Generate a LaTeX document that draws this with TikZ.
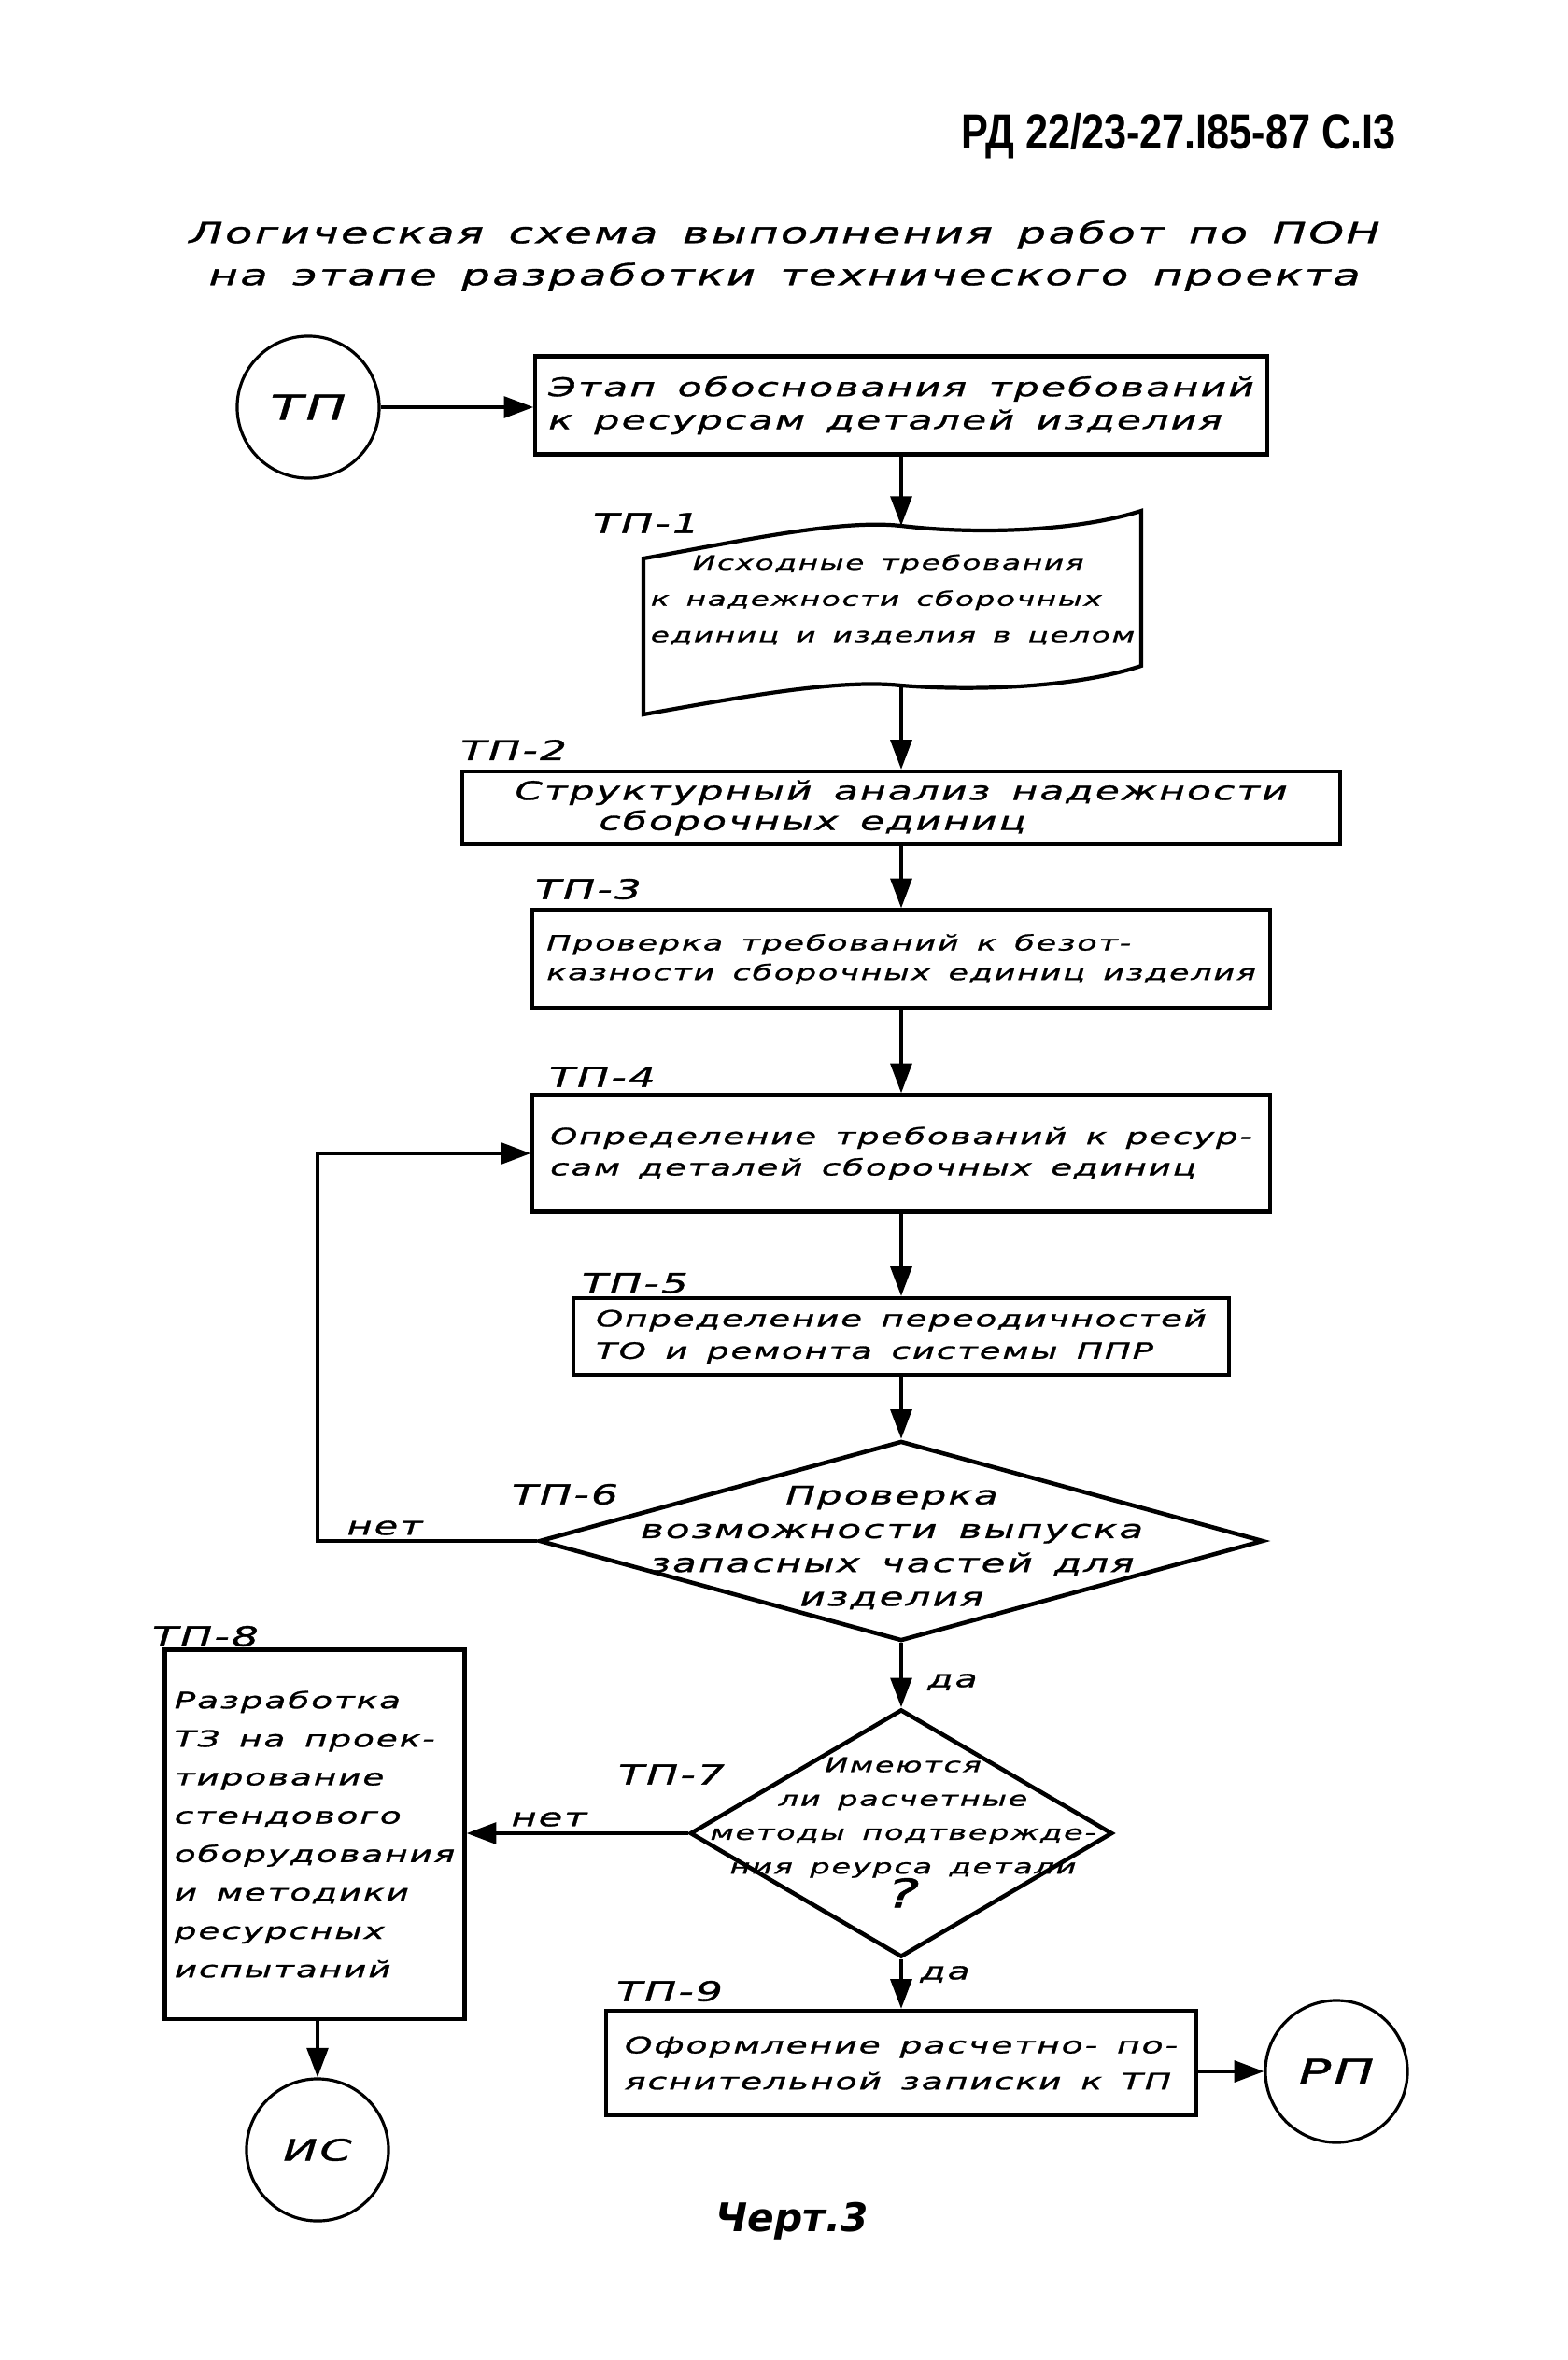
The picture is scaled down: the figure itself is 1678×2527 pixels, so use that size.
\documentclass[tikz,border=0pt]{standalone}
\usepackage{fontspec}
\setmainfont{DejaVu Sans}
\newfontfamily\handfam{DejaVu Sans}[FakeStretch=1.55,LetterSpace=8,WordSpace=1.5,FakeBold=1.2]
\newfontfamily\headfam{Liberation Sans}[FakeStretch=0.82]
\newcommand\hw[2]{\handfam\itshape\fontsize{#1}{#2}\selectfont}
\usetikzlibrary{arrows.meta,shapes.geometric}
\tikzset{
	blk/.style={draw,rectangle,line width=1.2pt,inner sep=0pt,align=left,font=\hw{7.6}{10}},
	ask/.style={draw,diamond,line width=1.3pt,inner sep=0pt},
	term/.style={draw,circle,line width=0.9pt,inner sep=0pt,minimum size=1.52cm},
	tag/.style={font=\hw{8.3}{10}},
	flow/.style={line width=1pt,-{Triangle[length=9pt,width=6.5pt]}}
}

\begin{document}
\begin{tikzpicture}[x=0.01cm,y=-0.01cm]
	\useasboundingbox (0,0) rectangle (1678,2527);
	\node[font=\headfam\bfseries\fontsize{15}{18}\selectfont] (code) at (1262,146) {РД 22/23-27.I85-87 С.I3};
	\node[font=\hw{8.8}{12.8},align=center] (title) at (840,274) {Логическая схема выполнения работ по ПОН\\на этапе разработки технического проекта};

	\node[term,font=\hw{10.5}{12}] (tp) at (330,436) {ТП};
	\node[blk,minimum width=7.83cm,minimum height=1.05cm,font=\hw{7.8}{10}] (b0) at (965,434) {Этап обоснования требований\\к ресурсам деталей изделия};

	\coordinate (d1in) at (965,563);
	\coordinate (d1out) at (965,734);
	\draw[line width=1.2pt] (689,598) .. controls (800,578) and (900,556) .. (d1in) .. controls (1040,572) and (1150,570) .. (1222,547) -- (1222,713) .. controls (1150,737) and (1040,740) .. (d1out) .. controls (900,727) and (800,745) .. (689,765) -- cycle;
	\node[font=\hw{6}{11},align=left,inner sep=0pt] (tp1) at (956,642) {\hspace*{0.45cm}Исходные требования\\к надежности сборочных\\единиц и изделия в целом};

	\node[blk,minimum width=9.4cm,minimum height=0.78cm,font=\hw{7.75}{9.2}] (tp2) at (965,865) {Структурный анализ надежности\\\hspace*{0.9cm}сборочных единиц};
	\node[blk,minimum width=7.9cm,minimum height=1.05cm,font=\hw{6.4}{9}] (tp3) at (965,1027) {Проверка требований к безот-\\казности сборочных единиц изделия};
	\node[blk,minimum width=7.89cm,minimum height=1.25cm,font=\hw{6.8}{9.5}] (tp4) at (965,1235) {Определение требований к ресур-\\сам деталей сборочных единиц};
	\node[blk,minimum width=7.02cm,minimum height=0.82cm,font=\hw{6.8}{9.8}] (tp5) at (965,1431) {Определение переодичностей\\ТО и ремонта системы ППР};
	\node[ask,minimum width=7.75cm,minimum height=2.14cm] (tp6) at (965,1650) {};
	\node[font=\hw{7.7}{10.3},align=center] (tp6txt) at (955,1657) {Проверка\\возможности выпуска\\запасных частей для\\изделия};
	\node[ask,minimum width=4.52cm,minimum height=2.65cm] (tp7) at (965,1963) {};
	\node[font=\hw{6.15}{10.3},align=center] (tp7txt) at (967,1962) {Имеются\\ли расчетные\\методы подтвержде-\\ния реурса детали\\{\fontsize{12}{12}\selectfont ?}};
	\node[blk,minimum width=3.21cm,minimum height=3.95cm,font=\hw{6.85}{11.7}] (tp8) at (337,1964) {Разработка\\ТЗ на проек-\\тирование\\стендового\\оборудования\\и методики\\ресурсных\\испытаний};
	\node[blk,minimum width=6.31cm,minimum height=1.12cm,font=\hw{6.9}{11}] (tp9) at (965,2209) {Оформление расчетно- по-\\яснительной записки к ТП};
	\node[term,font=\hw{10.5}{12}] (rp) at (1431,2218) {РП};
	\node[term,font=\hw{9}{11}] (is) at (340,2302) {ИС};

	\node[tag] (l1) at (692,560) {ТП-1};
	\node[tag] (l2) at (550,803) {ТП-2};
	\node[tag] (l3) at (630,952) {ТП-3};
	\node[tag] (l4) at (645,1153) {ТП-4};
	\node[tag] (l5) at (680,1374) {ТП-5};
	\node[tag] (l6) at (605,1600) {ТП-6};
	\node[tag] (l7) at (719,1900) {ТП-7};
	\node[tag] (l8) at (220,1752) {ТП-8};
	\node[tag] (l9) at (717,2132) {ТП-9};
	\node[font=\hw{7.6}{10}] (no1) at (412,1636) {нет};
	\node[font=\hw{7.6}{10}] (no2) at (588,1948) {нет};
	\node[font=\hw{7.2}{10}] (yes1) at (1020,1801) {да};
	\node[font=\hw{7.2}{10}] (yes2) at (1012,2114) {да};
	\node[font=\bfseries\itshape\fontsize{12}{14}\selectfont] (fig) at (848,2378) {Черт.3};

	\draw[flow] (tp) -- (tp -| b0.west);
	\draw[flow] (b0) -- (d1in);
	\draw[flow] (d1out) -- (tp2);
	\draw[flow] (tp2) -- (tp3);
	\draw[flow] (tp3) -- (tp4);
	\draw[flow] (tp4) -- (tp5);
	\draw[flow] (tp5) -- (tp6);
	\draw[flow] (tp6) -- (tp7);
	\draw[flow] (tp7) -- (tp9);
	\draw[flow] (tp7.west) -- (tp7.west -| tp8.east);
	\draw[flow] (tp8.south -| is) -- (is);
	\draw[flow] (tp9.east |- rp) -- (rp);
	\draw[flow] (tp6.west) -- ++(-235,0) |- (tp4.west);
\end{tikzpicture}
\end{document}
